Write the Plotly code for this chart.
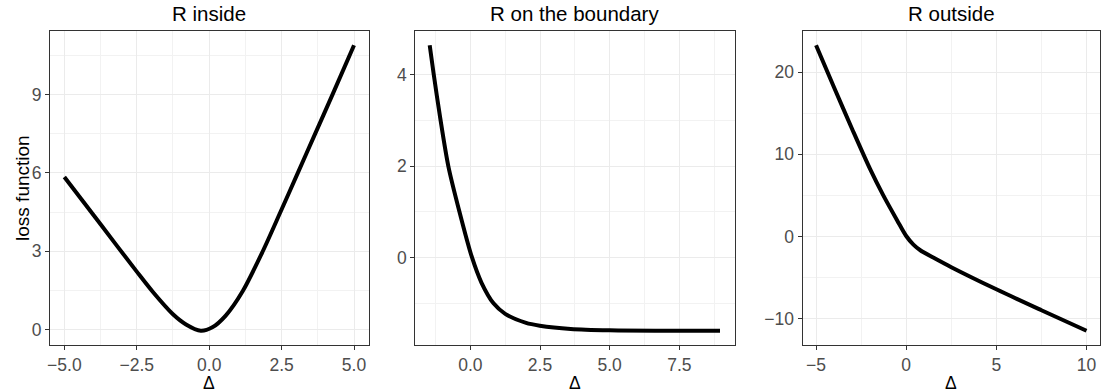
import plotly.graph_objects as go

# ---- data ----
titles = ["R inside", "R on the boundary", "R outside"]

p1_x = [-5.0, -3.75, -2.5, -1.95, -1.26, -0.8, -0.29, 0.11, 0.57, 1.16, 1.85, 2.46, 3.06, 3.66, 4.26, 5.0]
p1_y = [5.84, 4.03, 2.22, 1.45, 0.60, 0.20, -0.04, 0.09, 0.54, 1.48, 3.0, 4.5, 6.0, 7.5, 9.0, 10.88]

p2_x = [-1.46, -1.32, -1.08, -0.79, -0.39, 0.05, 0.4, 0.83, 1.25, 2.0, 2.49, 3.6, 5.0, 7.0, 8.96]
p2_y = [4.65, 4.03, 3.05, 2.0, 1.0, 0.02, -0.55, -1.0, -1.23, -1.43, -1.49, -1.56, -1.59, -1.60, -1.60]

p3_x = [-5.0, -4.0, -3.0, -2.0, -1.27, -0.5, 0.0, 0.4, 0.8, 1.6, 2.5, 5.0, 7.5, 10.0]
p3_y = [23.3, 18.15, 13.1, 8.2, 5.0, 1.95, 0.05, -1.0, -1.72, -2.7, -3.75, -6.45, -9.0, -11.5]

p1_xticks = [-5.0, -2.5, 0.0, 2.5, 5.0]
p1_xlabels = ["\u22125.0", "\u22122.5", "0.0", "2.5", "5.0"]
p1_yticks = [0, 3, 6, 9]
p2_xticks = [0.0, 2.5, 5.0, 7.5]
p2_xlabels = ["0.0", "2.5", "5.0", "7.5"]
p2_yticks = [0, 2, 4]
p3_xticks = [-5, 0, 5, 10]
p3_xlabels = ["\u22125", "0", "5", "10"]
p3_yticks = [-10, 0, 10, 20]
p3_ylabels = ["\u221210", "0", "10", "20"]

x_label = "\u0394"
y_label = "loss function"

# ---- layout geometry (pixels) ----
W, H = 1110, 392
panels_px = [(47, 366.5), (413.3, 733.5), (801.7, 1100)]
top_px, bot_px = 31, 345
ydom = [(H - bot_px) / H, (H - top_px) / H]

def expand(vals, f=0.05):
    lo, hi = min(vals), max(vals)
    d = (hi - lo) * f
    return [lo - d, hi + d]

font_family = "Liberation Sans, Arial, sans-serif"
tick_font = dict(family=font_family, size=17.5, color="#4D4D4D")

fig = go.Figure()
series = [(p1_x, p1_y), (p2_x, p2_y), (p3_x, p3_y)]
xticks = [(p1_xticks, p1_xlabels, 2.5), (p2_xticks, p2_xlabels, 2.5), (p3_xticks, p3_xlabels, 5)]
yticks = [(p1_yticks, [str(v) for v in p1_yticks], 3), (p2_yticks, [str(v) for v in p2_yticks], 2),
          (p3_yticks, p3_ylabels, 10)]

for i, (xs, ys) in enumerate(series):
    n = "" if i == 0 else str(i + 1)
    fig.add_trace(go.Scatter(x=xs, y=ys, mode="lines",
                             line=dict(color="black", width=4, shape="spline", smoothing=0.8),
                             xaxis="x" + n, yaxis="y" + n, showlegend=False, hoverinfo="skip"))
    x0, x1 = panels_px[i]
    tv, tt, dt = xticks[i]
    yv, yt, dty = yticks[i]
    common = dict(showline=True, mirror=True, linecolor="#333333", linewidth=1,
                  ticks="outside", ticklen=4, tickcolor="#333333", tickwidth=1,
                  showgrid=True, gridcolor="#EBEBEB", gridwidth=1.1, zeroline=False,
                  tickfont=tick_font)
    fig.layout["xaxis" + n] = dict(
        domain=[x0 / W, x1 / W], anchor="y" + n, range=expand(xs),
        tickvals=tv, ticktext=tt,
        minor=dict(dtick=dt / 2, tick0=0, showgrid=True, gridcolor="#F2F2F2", gridwidth=0.7, ticks=""),
        **common)
    fig.layout["yaxis" + n] = dict(
        domain=ydom, anchor="x" + n, range=expand(ys),
        tickvals=yv, ticktext=yt,
        minor=dict(dtick=dty / 2, tick0=0, showgrid=True, gridcolor="#F2F2F2", gridwidth=0.7, ticks=""),
        **common)
    # panel title
    fig.add_annotation(x=(x0 + x1) / 2 / W, y=1 - 1 / H, xref="paper", yref="paper",
                       text=titles[i], showarrow=False, xanchor="center", yanchor="top",
                       borderpad=0, font=dict(family=font_family, size=20.5, color="black"))
    # x axis label
    fig.add_annotation(x=(x0 + x1) / 2 / W, y=(H - 371.5) / H, xref="paper", yref="paper",
                       text=x_label, showarrow=False, xanchor="center", yanchor="top",
                       borderpad=0, font=dict(family=font_family, size=17.5, color="black"))

fig.add_annotation(x=19 / W, y=(ydom[0] + ydom[1]) / 2, xref="paper", yref="paper",
                   text=y_label, showarrow=False, textangle=-90, xanchor="center", yanchor="middle",
                   borderpad=0, font=dict(family=font_family, size=19, color="black"))

fig.update_layout(width=W, height=H, margin=dict(l=0, r=0, t=0, b=0),
                  paper_bgcolor="white", plot_bgcolor="white")
fig.write_html("out.html")
